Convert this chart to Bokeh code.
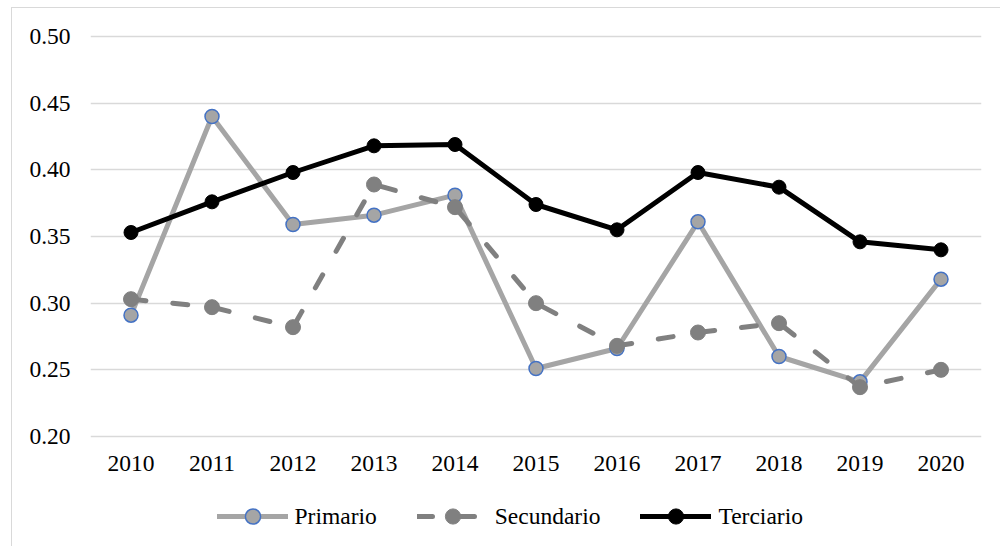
from bokeh.plotting import figure
from bokeh.models import FactorRange, Range1d, FixedTicker, Legend, LegendItem, CustomJSTickFormatter
from bokeh.embed import file_html
from bokeh.resources import INLINE

years = ["2010", "2011", "2012", "2013", "2014", "2015", "2016", "2017", "2018", "2019", "2020"]
primario = [0.291, 0.440, 0.359, 0.366, 0.381, 0.251, 0.266, 0.361, 0.260, 0.241, 0.318]
secundario = [0.303, 0.297, 0.282, 0.389, 0.372, 0.300, 0.268, 0.278, 0.285, 0.237, 0.250]
terciario = [0.353, 0.376, 0.398, 0.418, 0.419, 0.374, 0.355, 0.398, 0.387, 0.346, 0.340]
y_ticks = [0.20, 0.25, 0.30, 0.35, 0.40, 0.45, 0.50]

FONT = "'Liberation Serif', 'Times New Roman', serif"
FS = "23.5px"

p = figure(
    width=989, height=539,
    x_range=FactorRange(factors=years, range_padding=0),
    y_range=Range1d(0.11675, 0.506),
    output_backend="svg", toolbar_location=None,
    min_border_left=78, min_border_right=20, min_border_top=20, min_border_bottom=0,
    styles={"margin-left": "11px", "margin-top": "7px",
            "border-left": "1px solid #d9d9d9", "border-top": "1px solid #d9d9d9"},
)
p.outline_line_color = None
p.background_fill_color = "white"
p.border_fill_color = "white"

p.xgrid.grid_line_color = None
p.ygrid.grid_line_color = "#d9d9d9"
p.ygrid.grid_line_width = 1.5
p.yaxis.ticker = FixedTicker(ticks=y_ticks)
p.yaxis.formatter = CustomJSTickFormatter(code="return tick.toFixed(2);")
p.xaxis.fixed_location = 0.2

for ax in (p.xaxis[0], p.yaxis[0]):
    ax.axis_line_color = None
    ax.major_tick_line_color = None
    ax.minor_tick_line_color = None
    ax.major_tick_out = 0
    ax.major_tick_in = 0
    ax.major_label_text_font = FONT
    ax.major_label_text_font_size = FS
    ax.major_label_text_color = "#000000"
p.yaxis.major_label_standoff = 20
p.xaxis.major_label_standoff = 19

l1 = p.line(years, primario, line_color="#a5a5a5", line_width=5, line_join="round", line_cap="round")
s1 = p.scatter(years, primario, size=14, fill_color="#a5a5a5", line_color="#4472c4", line_width=1.5)
l2 = p.line(years, secundario, line_color="#808080", line_width=5, line_dash="15 27", line_join="round", line_cap="round")
s2 = p.scatter(years, secundario, size=15, fill_color="#808080", line_color="#808080", line_width=1)
l3 = p.line(years, terciario, line_color="#000000", line_width=5, line_join="round", line_cap="round")
s3 = p.scatter(years, terciario, size=14, fill_color="#000000", line_color="#000000", line_width=1)

legend = Legend(
    items=[
        LegendItem(label="Primario", renderers=[l1, s1]),
        LegendItem(label="Secundario", renderers=[l2, s2]),
        LegendItem(label="Terciario", renderers=[l3, s3]),
    ],
    orientation="horizontal",
    location=(126.5, 12),
    glyph_width=71, glyph_height=38,
    label_standoff=7, spacing=40,
    padding=0, margin=0,
    border_line_color=None, background_fill_alpha=0,
    label_text_font=FONT, label_text_font_size=FS, label_text_color="#000000",
)
p.add_layout(legend, "center")

open("out.html", "w").write(file_html(p, INLINE))
